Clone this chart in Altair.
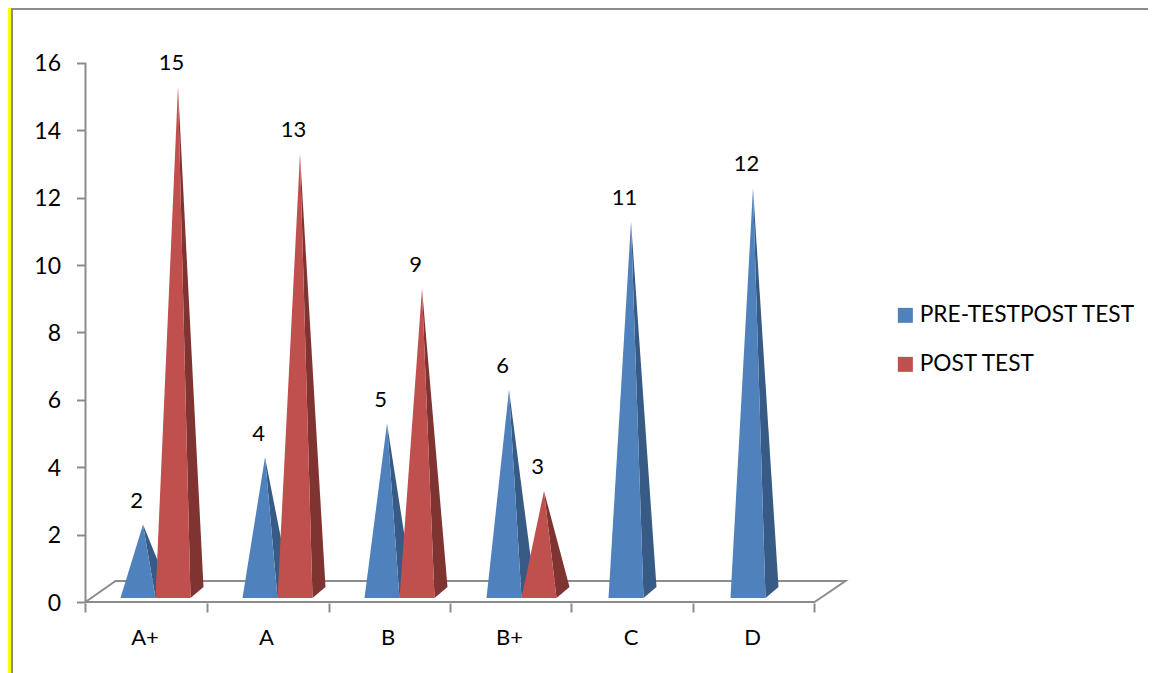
import altair as alt
import pandas as pd

# ---- values ----
categories = ["A+", "A", "B", "B+", "C", "D"]
pre_test = [2, 4, 5, 6, 11, 12]
post_test = [15, 13, 9, 3, None, None]
series_names = ["PRE-TESTPOST TEST", "POST TEST"]
y_ticks = list(range(0, 17, 2))

# ---- drawing constants ----
W, H = 1140, 665
PX_X, PX_Y = 121.5, 33.69       # pixels per x / y unit
X0_PX, Y0_PX = 77.5, 594        # plot position of the data origin
FONT = "Lato"
GRAY = "#8c8c8c"
BLUE, BLUE_SIDE = "#4f81bd", "#375b85"
RED, RED_SIDE = "#c0504d", "#7f3432"

xdom = [-X0_PX / PX_X, (W - X0_PX) / PX_X]
ydom = [-(H - Y0_PX) / PX_Y, Y0_PX / PX_Y]
xs = alt.Scale(domain=xdom, nice=False, zero=False)
ys = alt.Scale(domain=ydom, nice=False, zero=False)

x_axis = alt.Axis(
    values=list(range(len(categories) + 1)),
    orient="bottom",
    offset=-(H - Y0_PX) + 1,
    labels=False,
    domain=False,
    grid=False,
    title=None,
    tickColor=GRAY,
    tickWidth=2,
    tickSize=9,
)
y_axis = alt.Axis(
    values=y_ticks,
    orient="left",
    offset=-X0_PX,
    domain=False,
    grid=False,
    title=None,
    tickColor=GRAY,
    tickWidth=2,
    tickSize=9,
    labelFont=FONT,
    labelFontSize=23,
    labelColor="#000000",
    labelPadding=16,
    labelOffset=1,
)

STEP = 122 / PX_X
LEFT = 35 / PX_X
BASE = 35 / PX_X
DX = 13 / PX_X
APEX_DX = 5 / PX_X
FRONT_Y = 4 / PX_Y
BACK_Y = 15 / PX_Y
APEX_Y = 10 / PX_Y


def build(values, slot):
    front, side, labels = [], [], []
    for i, v in enumerate(values):
        if v is None:
            continue
        x0 = i * STEP + LEFT + slot * BASE
        x1 = x0 + BASE
        ax = (x0 + x1) / 2 + APEX_DX
        ay = v + APEX_Y
        x2 = x1 + DX
        top = ay + (BACK_Y - ay) * (x1 - ax) / (x2 - ax)
        key = f"{slot}-{i}"
        front += [
            dict(k=key, s=series_names[slot], x=x0, y=FRONT_Y, y2=FRONT_Y),
            dict(k=key, s=series_names[slot], x=ax, y=ay, y2=FRONT_Y),
            dict(k=key, s=series_names[slot], x=x1, y=FRONT_Y, y2=FRONT_Y),
        ]
        side += [
            dict(k=key, x=ax, y=ay, y2=ay),
            dict(k=key, x=x1, y=top, y2=FRONT_Y),
            dict(k=key, x=x2, y=BACK_Y, y2=BACK_Y),
        ]
        labels.append(dict(x=(x0 + x1) / 2 - 1.5 / PX_X, y=v + 1, t=str(v)))
    return pd.DataFrame(front), pd.DataFrame(side), labels


bf, bs, bl = build(pre_test, 0)
rf, rs, rl = build(post_test, 1)
label_df = pd.DataFrame(bl + rl)


def X(f="x"):
    return alt.X(f"{f}:Q", scale=xs, axis=x_axis)


def Y(f="y"):
    return alt.Y(f"{f}:Q", scale=ys, axis=y_axis, stack=None)


def side_layer(df, color):
    return alt.Chart(df).mark_area(color=color, interpolate="linear").encode(
        x=X(), y=Y(), y2="y2:Q", detail="k:N"
    )


color = alt.Color(
    "s:N",
    scale=alt.Scale(domain=series_names, range=[BLUE, RED]),
    legend=alt.Legend(
        title=None,
        orient="none",
        legendX=886,
        legendY=296,
        symbolType="square",
        symbolSize=225,
        symbolStrokeWidth=0,
        symbolOpacity=1,
        labelFont=FONT,
        labelFontSize=22.7,
        labelColor="#000000",
        labelOffset=3,
        labelLimit=300,
        rowPadding=25,
    ),
)


def front_layer(df):
    return alt.Chart(df).mark_area(interpolate="linear", opacity=1).encode(
        x=X(), y=Y(), y2="y2:Q", detail="k:N", color=color
    )


# Floor outline and vertical wall, in data units
floor_x = [0, 30 / PX_X, 760 / PX_X, 729 / PX_X, 0]
floor_y = [0, 21 / PX_Y, 21 / PX_Y, 0, 0]
floor = alt.Chart(
    pd.DataFrame({"x": floor_x, "y": floor_y, "o": range(5)})
).mark_line(color=GRAY, strokeWidth=2).encode(x=X(), y=Y(), order="o:Q")
wall = alt.Chart(pd.DataFrame({"x": [0, 0], "y": [0, 16]})).mark_line(
    color=GRAY, strokeWidth=2
).encode(x=X(), y=Y())

# Page frame, at the edge of the drawable area
frame_top = alt.Chart(pd.DataFrame({"a": [0]})).mark_rule(color=GRAY, strokeWidth=2).encode(
    x=alt.value(0), x2=alt.value(W), y=alt.value(1)
)
frame_yellow = alt.Chart(pd.DataFrame({"a": [0]})).mark_rule(color="#ffff00", strokeWidth=3).encode(
    x=alt.value(1.5), y=alt.value(0), y2=alt.value(H)
)
frame_left = alt.Chart(pd.DataFrame({"a": [0]})).mark_rule(color=GRAY, strokeWidth=2).encode(
    x=alt.value(4), y=alt.value(0), y2=alt.value(H)
)

value_labels = alt.Chart(label_df).mark_text(
    font=FONT, fontSize=22, color="#000000", baseline="middle"
).encode(x=X(), y=Y(), text="t:N")

cat_df = pd.DataFrame(
    {"x": [i + 0.49 for i in range(len(categories))], "y": [-36 / PX_Y] * len(categories), "t": categories}
)
cat_labels = alt.Chart(cat_df).mark_text(
    font=FONT, fontSize=22, color="#000000", baseline="middle"
).encode(x=X(), y=Y(), text="t:N")

chart = alt.layer(
    frame_top, frame_yellow, frame_left, floor, wall,
    side_layer(bs, BLUE_SIDE), front_layer(bf),
    side_layer(rs, RED_SIDE), front_layer(rf),
    value_labels, cat_labels,
).properties(
    width=W,
    height=H,
    padding=0,
    autosize=alt.AutoSizeParams(type="none"),
    background="#ffffff",
).configure_view(stroke=None)

chart.save("out.html", embed_options={"renderer": "svg", "actions": False})
